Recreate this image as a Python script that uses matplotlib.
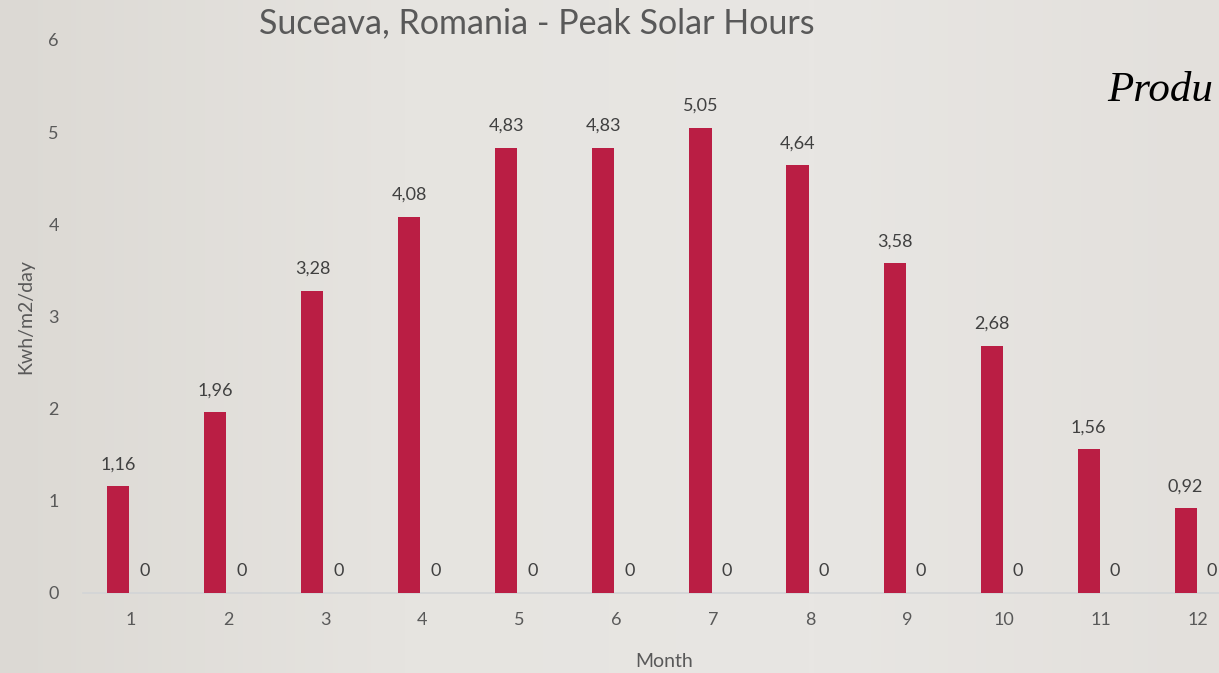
import numpy as np
import matplotlib
matplotlib.use("Agg")
import matplotlib.pyplot as plt

# data
months = [1, 2, 3, 4, 5, 6, 7, 8, 9, 10, 11, 12]
peak_hours = [1.16, 1.96, 3.28, 4.08, 4.83, 4.83, 5.05, 4.64, 3.58, 2.68, 1.56, 0.92]
second_series = [0, 0, 0, 0, 0, 0, 0, 0, 0, 0, 0, 0]
y_ticks = [0, 1, 2, 3, 4, 5, 6]

bar_color = "#ba1e44"
text_color = "#595959"
label_color = "#404040"

plt.rcParams['font.family'] = ['Lato', 'DejaVu Sans']

fig = plt.figure(figsize=(12.19, 6.73), dpi=100)

# soft grey slide background, a bit darker at the left edge
bg = fig.add_axes([0, 0, 1, 1], zorder=-10)
grad = np.linspace(0, 1, 256).reshape(1, -1)
bg.imshow(grad, cmap=matplotlib.colors.LinearSegmentedColormap.from_list(
    "bg", ["#dcd9d4", "#e6e4e0", "#e8e6e3", "#e3e0dc"]), aspect="auto",
    extent=[0, 1, 0, 1])
bg.axis("off")

# the plot area runs past the right edge of the picture, like the reference
ax = fig.add_axes([0.0677, 0.1189, 0.955, 0.8217])
ax.set_facecolor("none")

x = np.arange(len(months)) + 1
w = 0.227
b1 = ax.bar(x - 0.13, peak_hours, width=w, color=bar_color, zorder=3)
b2 = ax.bar(x + 0.14, second_series, width=w, color=bar_color, zorder=3)

labels1 = [f"{v:.2f}".replace(".", ",") for v in peak_hours]
ax.bar_label(b1, labels=labels1, padding=10, fontsize=13, color=label_color)
ax.bar_label(b2, labels=[str(v) for v in second_series], padding=10,
             fontsize=13, color=label_color)

ax.set_xlim(0.5, 12.5)
ax.set_ylim(0, 6)
ax.set_xticks(x)
ax.set_xticklabels([str(m) for m in months])
ax.set_yticks(y_ticks)
ax.tick_params(axis="both", length=0, labelsize=13, labelcolor=text_color)
ax.tick_params(axis="x", pad=14)
ax.tick_params(axis="y", pad=17)

for s in ["top", "right", "left"]:
    ax.spines[s].set_visible(False)
ax.spines["bottom"].set_color("#d2d4d6")
ax.spines["bottom"].set_linewidth(1.2)

ax.set_xlabel("Month", fontsize=14, color=text_color)
ax.set_ylabel("Kwh/m2/day", fontsize=14, color=text_color, labelpad=10)
ax.xaxis.set_label_coords(0.5, -0.108)

fig.text(0.44, 0.965, "Suceava, Romania - Peak Solar Hours", fontsize=24.5,
         color=text_color, ha="center", va="center")
fig.text(0.908, 0.85, "Produ", fontsize=31, color="black",
         family="Liberation Serif", style="italic", ha="left", va="baseline")

fig.savefig("out.png", dpi=100)
